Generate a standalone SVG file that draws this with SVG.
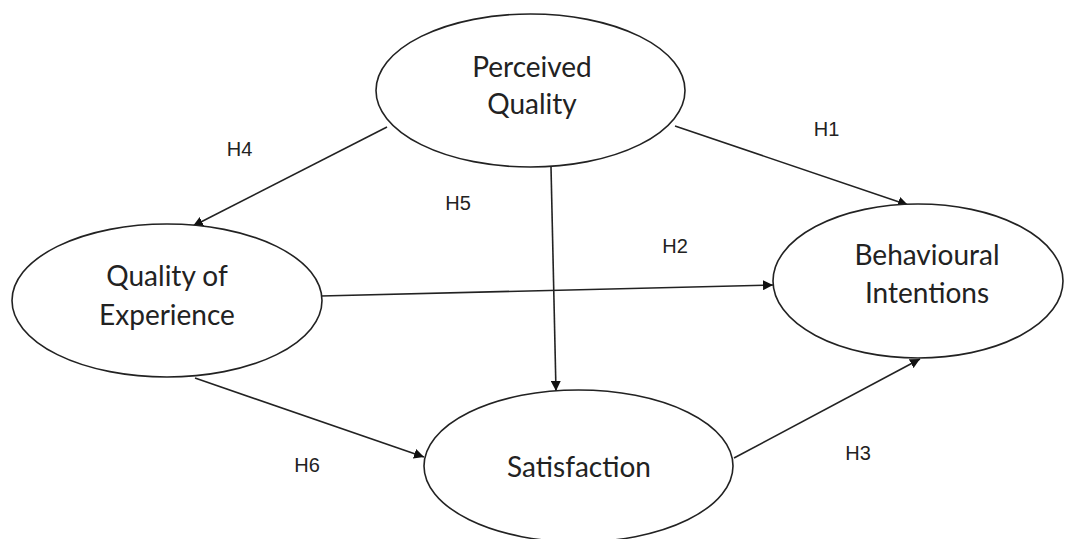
<svg xmlns="http://www.w3.org/2000/svg" width="1073" height="539" viewBox="0 0 1073 539">
<style>
.node ellipse{fill:#fff;stroke:#222;stroke-width:1.6}
.node text{font-family:Lato,"Open Sans",sans-serif;font-size:28px;fill:#222;text-anchor:middle}
.edges line{stroke:#222;stroke-width:1.6;marker-end:url(#arr)}
.lbl{font-family:"Liberation Sans",Arial,sans-serif;font-size:20px;fill:#222;text-anchor:middle}
</style>
<defs>
<marker id="arr" viewBox="0 0 10 10" refX="10" refY="5" markerWidth="10" markerHeight="10" markerUnits="userSpaceOnUse" orient="auto">
<path d="M0,0 L10,5 L0,10 z" fill="#111"/>
</marker>
</defs>
<rect width="1073" height="539" fill="#fff"/>
<g class="edges">
<line x1="387" y1="127" x2="193" y2="226"/>
<line x1="675" y1="126" x2="908" y2="205"/>
<line x1="551" y1="167" x2="556" y2="391"/>
<line x1="321" y1="296" x2="773" y2="285"/>
<line x1="195" y1="378" x2="424" y2="457"/>
<line x1="734" y1="458" x2="920" y2="359"/>
</g>
<g id="perceived-quality" class="node">
<ellipse cx="530.5" cy="90.5" rx="154.5" ry="76.5"/>
<text x="532" y="77">Perceived</text>
<text x="532" y="114">Quality</text>
</g>
<g id="quality-of-experience" class="node">
<ellipse cx="167" cy="300.5" rx="155" ry="76.5"/>
<text x="167" y="286">Quality of</text>
<text x="167" y="325">Experience</text>
</g>
<g id="behavioural-intentions" class="node">
<ellipse cx="918" cy="281" rx="145" ry="77"/>
<text x="927" y="265">Behavioural</text>
<text x="927" y="303">Intentions</text>
</g>
<g id="satisfaction" class="node">
<ellipse cx="578.5" cy="466" rx="154.5" ry="76"/>
<text x="579" y="477">Satisfaction</text>
</g>
<g id="labels">
<text class="lbl" x="239.5" y="156">H4</text>
<text class="lbl" x="458" y="210">H5</text>
<text class="lbl" x="826.5" y="136">H1</text>
<text class="lbl" x="675" y="253">H2</text>
<text class="lbl" x="307" y="472">H6</text>
<text class="lbl" x="858" y="460">H3</text>
</g>
</svg>
